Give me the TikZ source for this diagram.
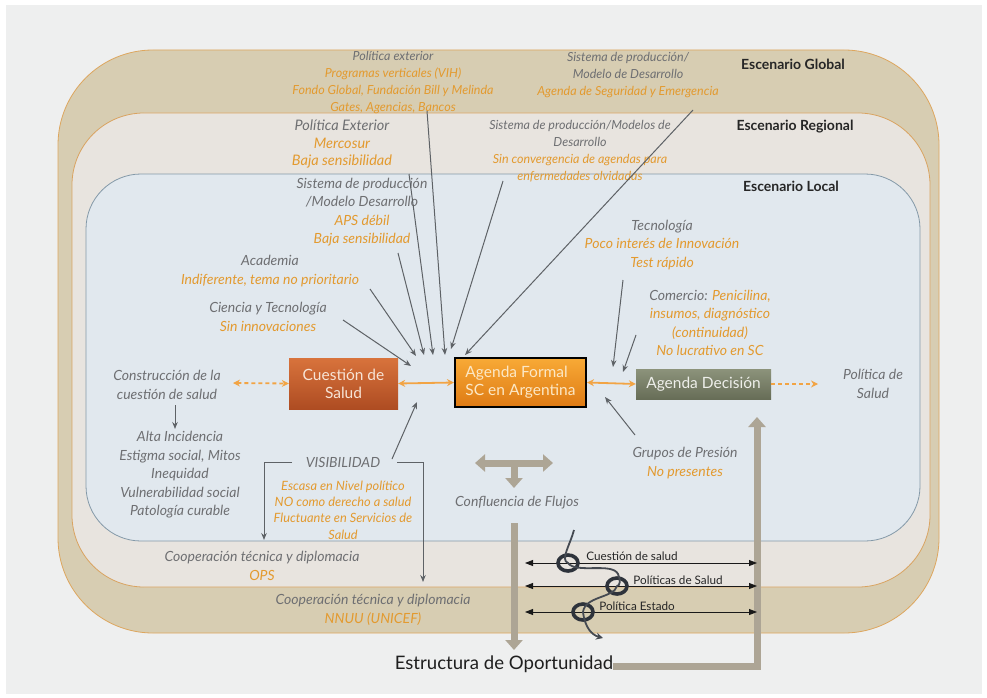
\documentclass[tikz,border=0pt]{standalone}
\usepackage{fontspec}
\setmainfont{Lato}
\usetikzlibrary{arrows.meta}
\definecolor{bgc}{HTML}{EEEFEF}
\definecolor{globf}{HTML}{D7CDB2}
\definecolor{globd}{HTML}{DDA65E}
\definecolor{regf}{HTML}{E8E4DF}
\definecolor{regd}{HTML}{D9A360}
\definecolor{locf}{HTML}{E1E8EE}
\definecolor{locd}{HTML}{8499A8}
\definecolor{tgray}{HTML}{6E6F72}
\definecolor{torange}{HTML}{E39A2F}
\definecolor{agray}{HTML}{5E6266}
\definecolor{aorange}{HTML}{F2A444}
\definecolor{tan}{HTML}{ADA595}
\definecolor{ringc}{HTML}{2E333B}
\definecolor{wigc}{HTML}{454A52}
\definecolor{csTop}{HTML}{D8733C}
\definecolor{csBot}{HTML}{AE4C22}
\definecolor{csTxt}{HTML}{F7E4D6}
\definecolor{afTop}{HTML}{F8AA36}
\definecolor{afBot}{HTML}{DE7A14}
\definecolor{afTxt}{HTML}{FCE8C6}
\definecolor{adTop}{HTML}{8C937B}
\definecolor{adBot}{HTML}{676D57}
\definecolor{adTxt}{HTML}{EEEFEA}
\tikzset{
  gtxt/.style={text=tgray, font=\itshape\fontsize{14}{18.5}\selectfont, align=center, inner sep=0pt},
  stxt/.style={text=tgray, font=\itshape\fontsize{12.5}{17}\selectfont, align=center, inner sep=0pt},
  scen/.style={text=black!85, font=\bfseries\fontsize{14}{16}\selectfont, inner sep=0pt},
  garrow/.style={draw=agray, line width=1pt, -{Stealth[length=7pt,width=5.5pt]}},
  oarrow/.style={draw=aorange, line width=1.8pt, {Stealth[length=7pt,width=7pt]}-{Stealth[length=7pt,width=7pt]}},
  oarrowd/.style={draw=aorange, line width=1.8pt, dash pattern=on 4pt off 3pt},
  tanarrow/.style={draw=tan, line width=7pt, -{Triangle[length=10pt,width=17pt]}},
  barrow/.style={draw=black!90, line width=0.9pt, {Triangle[length=8pt,width=6pt]}-{Triangle[length=8pt,width=6pt]}},
  blab/.style={text=black!85, font=\fontsize{11.7}{13}\selectfont, inner sep=0pt},
  ring/.style={draw=ringc, line width=3.6pt},
  boxtxt/.style={font=\fontsize{15.5}{18}\selectfont, align=center}
}
\begin{document}
\begin{tikzpicture}[x=1pt,y=-1pt]
\useasboundingbox (0,0) rectangle (987,698);
\fill[white] (0,0) rectangle (987,698);
\fill[bgc] (6,5) rectangle (982,694);
% scenarios
\draw[fill=globf, draw=globd, line width=0.8pt, rounded corners=95pt] (58,50) rectangle (939,633);
\draw[fill=regf, draw=regd, line width=0.8pt, rounded corners=72pt] (72,113) rectangle (930,587);
\draw[fill=locf, draw=locd, line width=0.8pt, rounded corners=55pt] (86,174) rectangle (920,541);
\node[scen] (eg) at (793,64) {Escenario Global};
\node[scen] (er) at (795,127) {Escenario Regional};
\node[scen] (el) at (791,186) {Escenario Local};
% global texts
\node[stxt] (g1) at (393,83) {Política exterior\\\textcolor{torange}{Programas verticales (VIH)}\\\textcolor{torange}{Fondo Global, Fundación Bill y Melinda}\\\textcolor{torange}{Gates, Agencias, Bancos}};
\node[stxt] (g2) at (628,75) {Sistema de producción/\\Modelo de Desarrollo\\\textcolor{torange}{Agenda de Seguridad y Emergencia}};
% regional texts
\node[gtxt, font=\itshape\fontsize{14.5}{17.5}\selectfont] (r1) at (342,144) {Política Exterior\\\textcolor{torange}{Mercosur}\\\textcolor{torange}{Baja sensibilidad}};
\node[stxt] (r2) at (580,151) {Sistema de producción/Modelos de\\Desarrollo\\\textcolor{torange}{Sin convergencia de agendas para}\\\textcolor{torange}{enfermedades olvidadas}};
% local texts
\node[gtxt] (l1) at (362,212) {Sistema de producción\\/Modelo Desarrollo\\\textcolor{torange}{APS débil}\\\textcolor{torange}{Baja sensibilidad}};
\node[gtxt] (l2) at (270,271) {Academia\\\textcolor{torange}{Indiferente, tema no prioritario}};
\node[gtxt] (l3) at (268,317) {Ciencia y Tecnología\\\textcolor{torange}{Sin innovaciones}};
\node[gtxt] (l4) at (662,245) {Tecnología\\\textcolor{torange}{Poco interés de Innovación}\\\textcolor{torange}{Test rápido}};
\node[gtxt] (l5) at (710,323) {Comercio: \textcolor{torange}{Penicilina,}\\\textcolor{torange}{insumos, diagnóstico}\\\textcolor{torange}{(continuidad)}\\\textcolor{torange}{No lucrativo en SC}};
\node[gtxt] (cons) at (167,385) {Construcción de la\\cuestión de salud};
\node[gtxt] (pols) at (873,384) {Política de\\Salud};
\node[gtxt] (alta) at (180,475) {Alta Incidencia\\Estigma social, Mitos\\Inequidad\\Vulnerabilidad social\\Patología curable};
\node[gtxt, font=\itshape\fontsize{14}{16}\selectfont] (vis) at (343,462) {VISIBILIDAD};
\node[stxt, text=torange, font=\itshape\fontsize{12.8}{16.3}\selectfont] (esc) at (343,510) {Escasa en Nivel político\\NO como derecho a salud\\Fluctuante en Servicios de\\Salud};
\node[gtxt] (grp) at (685,463) {Grupos de Presión\\\textcolor{torange}{No presentes}};
\node[gtxt] (conf) at (517,503) {Confluencia de Flujos};
\node[gtxt] (ops) at (262,566) {Cooperación técnica y diplomacia\\\textcolor{torange}{OPS}};
\node[gtxt] (nnuu) at (373,610) {Cooperación técnica y diplomacia\\\textcolor{torange}{NNUU (UNICEF)}};
% boxes
\node[minimum width=109pt, minimum height=51pt, inner sep=0pt, top color=csTop, bottom color=csBot, text=csTxt, boxtxt] (cs) at (343.5,383.5) {Cuestión de\\Salud};
\node[minimum width=131pt, minimum height=49pt, inner sep=0pt, draw=black, line width=2pt, top color=afTop, bottom color=afBot, text=afTxt, boxtxt, align=left] (af) at (520.5,382.5) {Agenda Formal\\SC en Argentina};
\node[minimum width=135pt, minimum height=30pt, inner sep=0pt, top color=adTop, bottom color=adBot, text=adTxt, boxtxt] (ad) at (703.5,384) {Agenda Decisión};
% orange arrows
\coordinate (ca) at (233,383);
\coordinate (pa) at (818,384);
\draw[oarrow] (cs.east) -- (af.west);
\draw[oarrow] (af.east) -- (ad.west);
\draw[oarrowd, {Stealth[length=7pt,width=7pt]}-{Stealth[length=7pt,width=7pt]}] (ca) -- (cs.west);
\draw[oarrowd, -{Stealth[length=7pt,width=7pt]}] (ad.east) -- (pa);
% gray arrows to agenda formal
\coordinate (s1) at (343,320); \coordinate (e1) at (411,366);
\coordinate (s2) at (370,289); \coordinate (e2) at (416,356);
\coordinate (s3) at (398,253); \coordinate (e3) at (424,355);
\coordinate (s4) at (409,174); \coordinate (e4) at (433,355);
\coordinate (s5) at (427,111); \coordinate (e5) at (445,355);
\coordinate (s6) at (503,181); \coordinate (e6) at (451,349);
\coordinate (s7) at (693,110); \coordinate (e7) at (465,355);
\foreach \i in {1,...,7} {\draw[garrow] (s\i) -- (e\i);}
\coordinate (t1) at (623,280); \coordinate (t2) at (613,367);
\coordinate (c1) at (636,335); \coordinate (c2) at (623,372);
\draw[garrow] (t1) -- (t2);
\draw[garrow] (c1) -- (c2);
\coordinate (gp1) at (635,435); \coordinate (gp2) at (605,397);
\draw[garrow] (gp1) -- (gp2);
\coordinate (v1) at (392,459); \coordinate (v2) at (417,402);
\draw[garrow] (v1) -- (v2);
\coordinate (cd0) at (175,405);
\coordinate (cd) at (175,429);
\draw[garrow] (cd0) -- (cd);
% visibilidad bracket
\coordinate (vb1) at (264,540);
\coordinate (vb2) at (423,582);
\coordinate (vl) at (292,462);
\coordinate (vr) at (397,462);
\draw[garrow] (vl) -- (vl -| vb1) -- (vb1);
\draw[garrow] (vr) -- (vr -| vb2) -- (vb2);
% tan arrows
\coordinate (tl) at (475,463); \coordinate (tr) at (553,463); \coordinate (tm) at (514,463); \coordinate (tb) at (514,488);
\draw[draw=tan, line width=7pt, {Triangle[length=10pt,width=17pt]}-{Triangle[length=10pt,width=17pt]}] (tl) -- (tr);
\draw[tanarrow] (tm) -- (tb);
\coordinate (vt) at (514,523); \coordinate (vbt) at (514,650);
\draw[tanarrow] (vt) -- (vbt);
\node[font=\fontsize{18.6}{21}\selectfont, text=black!88, inner sep=0pt] (eo) at (504,664) {Estructura de Oportunidad};
\coordinate (eoc) at (757,666); \coordinate (eot) at (757,417);
\draw[tanarrow, line join=miter] (eo.east |- eoc) -- (eoc) -- (eot);
% black double arrows
\coordinate (b1l) at (525,563); \coordinate (b1r) at (757,563);
\coordinate (b2l) at (525,586); \coordinate (b2r) at (757,586);
\coordinate (b3l) at (525,612); \coordinate (b3r) at (757,612);
\draw[barrow] (b1l) -- (b1r);
\draw[barrow] (b2l) -- (b2r);
\draw[barrow] (b3l) -- (b3r);
\node[blab] (lb1) at (632,556) {Cuestión de salud};
\node[blab] (lb2) at (678,580) {Políticas de Salud};
\node[blab] (lb3) at (637,606) {Política Estado};
% wiggle and rings
\coordinate (ring1) at (568,563);
\coordinate (ring2) at (617,586);
\coordinate (ring3) at (583,612);
\coordinate (w0) at (574,530);
\coordinate (w4) at (603,638);
\draw[ring] (ring1) ellipse [x radius=10, y radius=8];
\draw[ring] (ring2) ellipse [x radius=10, y radius=8];
\draw[ring] (ring3) ellipse [x radius=10, y radius=8];
\draw[draw=wigc, line width=1.8pt, -{Stealth[length=7pt,width=7pt]}]
  (w0) .. controls (570,545) and (560,560) .. (ring1)
  .. controls (576,574) and (612,562) .. (618,574)
  .. controls (621,580) and (620,586) .. (ring2)
  .. controls (614,598) and (585,596) .. (ring3)
  .. controls (585,628) and (592,635) .. (w4);
\end{tikzpicture}
\end{document}
